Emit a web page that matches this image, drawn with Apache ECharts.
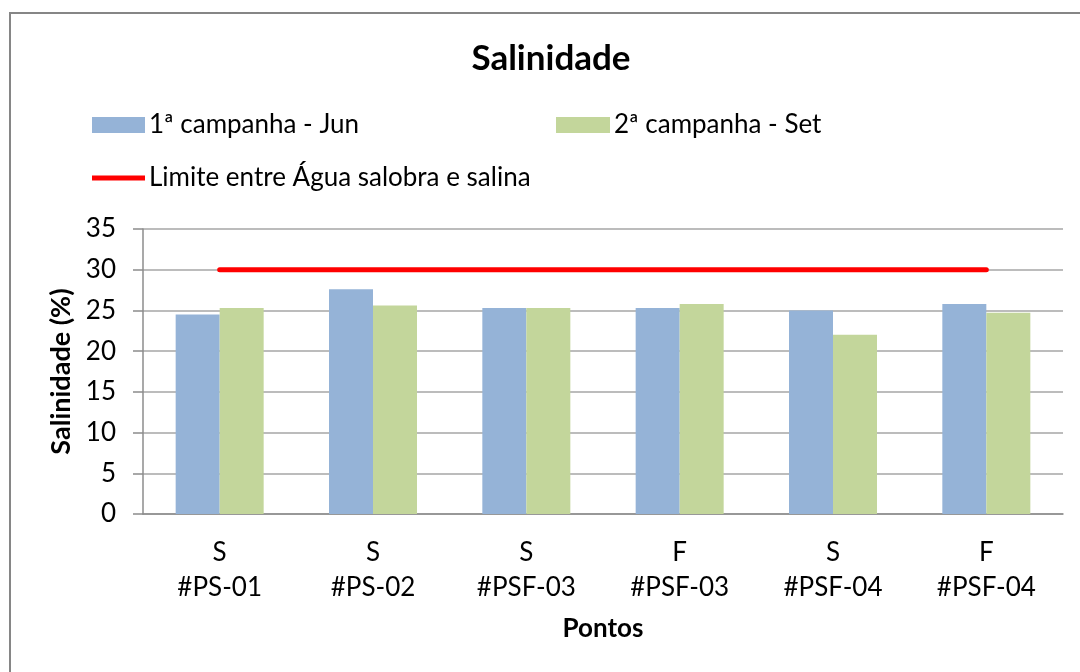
<!DOCTYPE html>
<html>
<head>
<meta charset="utf-8">
<script src="https://cdn.jsdelivr.net/npm/echarts@6/dist/echarts.min.js"></script>
<style>
  html, body { margin: 0; padding: 0; background: #fff; }
  #chart { width: 1080px; height: 672px; }
</style>
</head>
<body>
<div id="chart"></div>
<script>
// Sampling points (two-line labels: station type / point code)
const categories = ['S\n#PS-01', 'S\n#PS-02', 'S\n#PSF-03', 'F\n#PSF-03', 'S\n#PSF-04', 'F\n#PSF-04'];
// Salinity per campaign (%)
const campanha1 = [24.5, 27.6, 25.3, 25.3, 25.0, 25.8];
const campanha2 = [25.3, 25.6, 25.3, 25.8, 22.0, 24.7];
// Brackish / saline water threshold
const limite = [30, 30, 30, 30, 30, 30];
const yTicks = { min: 0, max: 35, interval: 5 };

const FONT = 'Lato, "Open Sans", sans-serif';
const chart = echarts.init(document.getElementById('chart'), null, { renderer: 'canvas' });

const legendText = { fontSize: 26, fontFamily: FONT, color: '#000', padding: [0, 0, 0, -1] };

chart.setOption({
  backgroundColor: '#ffffff',
  animation: false,
  textStyle: { fontFamily: FONT, color: '#000' },
  graphic: [
    {
      type: 'rect',
      shape: { x: 10, y: 13, width: 1090, height: 680 },
      style: { fill: 'none', stroke: '#868686', lineWidth: 2 },
      silent: true
    },
    {
      type: 'text',
      x: 551, y: 59,
      style: {
        text: 'Salinidade', font: 'bold 35px ' + FONT, fill: '#000',
        textAlign: 'center', textVerticalAlign: 'middle'
      }
    }
  ],
  legend: [
    {
      left: 92, top: 112, padding: 0, itemWidth: 53, itemHeight: 16,
      textStyle: legendText,
      data: [{ name: '1ª campanha - Jun', icon: 'rect' }]
    },
    {
      left: 556, top: 112, padding: 0, itemWidth: 54, itemHeight: 16,
      textStyle: legendText,
      data: [{ name: '2ª campanha - Set', icon: 'rect' }]
    },
    {
      left: 92, top: 165, padding: 0, itemWidth: 53, itemHeight: 5,
      textStyle: legendText,
      data: [{ name: 'Limite entre Água salobra e salina', icon: 'rect' }]
    }
  ],
  grid: { left: 143, right: 17, top: 229, bottom: 158, containLabel: false },
  xAxis: {
    type: 'category',
    data: categories,
    name: 'Pontos',
    nameLocation: 'middle',
    nameGap: 102,
    nameTextStyle: { fontSize: 26, fontWeight: 'bold', fontFamily: FONT, color: '#000' },
    axisLine: { show: true, lineStyle: { color: '#8c8c8c', width: 1.5 } },
    axisTick: { show: false },
    axisLabel: { fontSize: 26, lineHeight: 35, margin: 21, color: '#000', fontFamily: FONT, interval: 0 }
  },
  yAxis: {
    type: 'value',
    min: yTicks.min, max: yTicks.max, interval: yTicks.interval,
    name: 'Salinidade (%)',
    nameLocation: 'middle',
    nameGap: 67,
    nameTextStyle: { fontSize: 27, fontWeight: 'bold', fontFamily: FONT, color: '#000' },
    axisLine: { show: true, lineStyle: { color: '#8c8c8c', width: 1.5 } },
    axisTick: { show: true, inside: false, length: 10, lineStyle: { color: '#8c8c8c', width: 1.5 } },
    axisLabel: { fontSize: 26, margin: 27, color: '#000', fontFamily: FONT },
    splitLine: { show: true, lineStyle: { color: '#a6a6a6', width: 1.5 } }
  },
  series: [
    {
      name: '1ª campanha - Jun',
      type: 'bar',
      data: campanha1,
      barWidth: 44,
      barGap: '0%',
      itemStyle: { color: '#95b3d7' }
    },
    {
      name: '2ª campanha - Set',
      type: 'bar',
      data: campanha2,
      barWidth: 44,
      barGap: '0%',
      itemStyle: { color: '#c3d69b' }
    },
    {
      name: 'Limite entre Água salobra e salina',
      type: 'line',
      data: limite,
      symbol: 'none',
      lineStyle: { color: '#ff0000', width: 5, cap: 'round' },
      itemStyle: { color: '#ff0000' },
      z: 5
    }
  ]
});
</script>
</body>
</html>
